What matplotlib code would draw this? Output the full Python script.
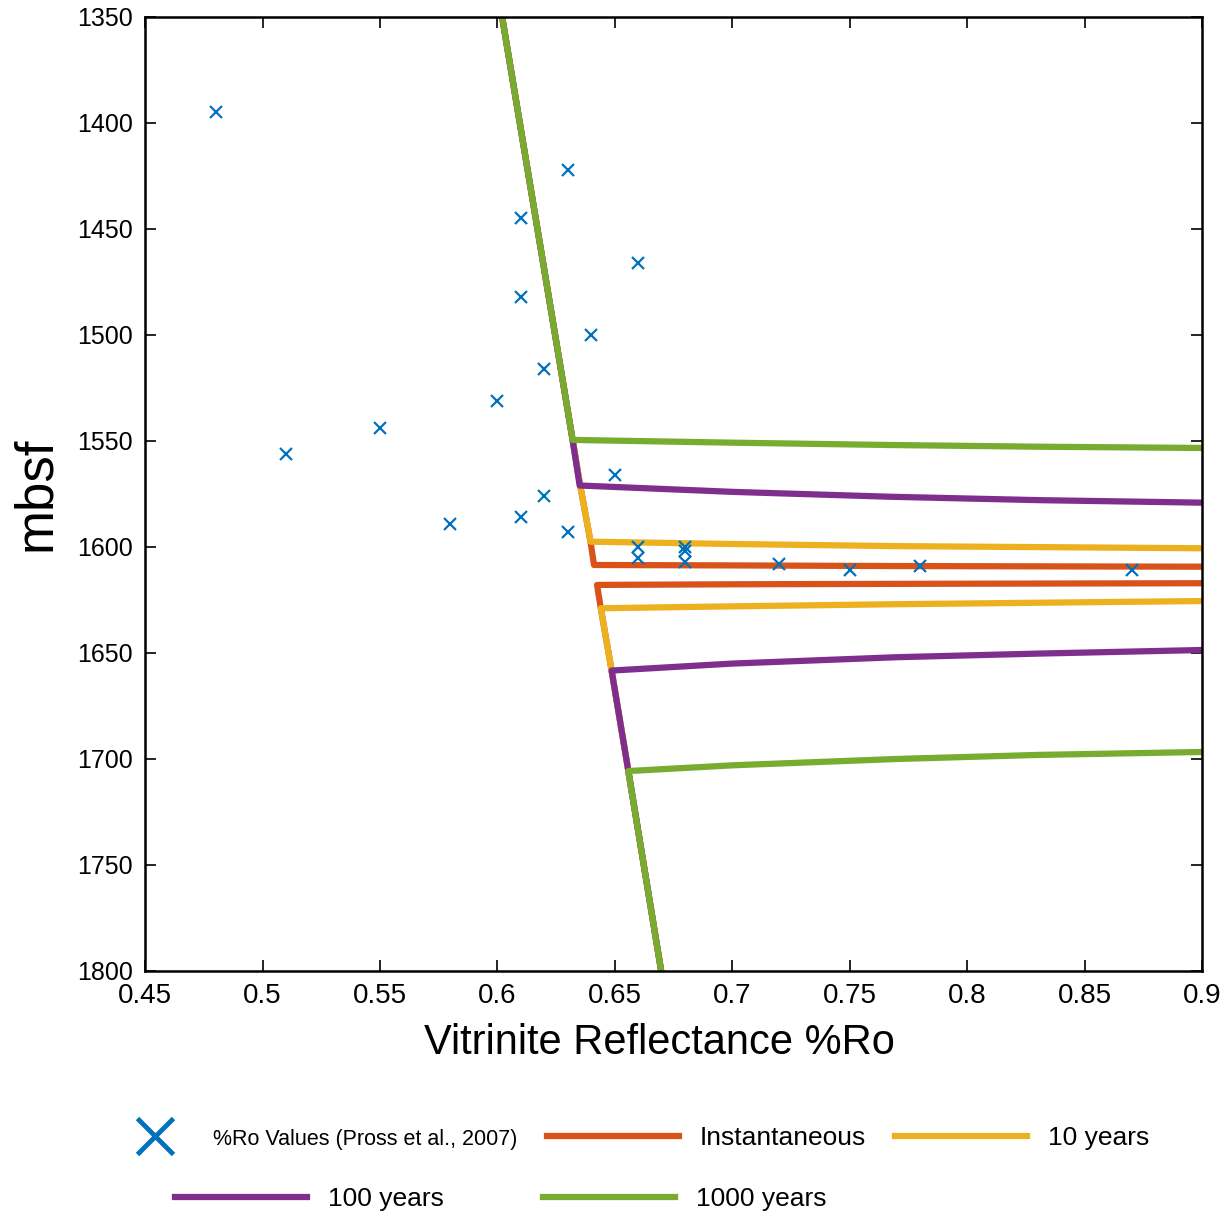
import numpy as np
import matplotlib.pyplot as plt
from matplotlib.lines import Line2D
from matplotlib.legend_handler import HandlerLine2D

plt.rcParams['font.family'] = ['Liberation Sans', 'DejaVu Sans']

# measured vitrinite reflectance (Pross et al., 2007)
ro_meas = [0.48, 0.63, 0.61, 0.66, 0.61, 0.64, 0.62, 0.60, 0.55, 0.51, 0.65, 0.62,
           0.58, 0.61, 0.63, 0.66, 0.66, 0.68, 0.68, 0.68, 0.72, 0.75, 0.78, 0.87]
depth_meas = [1395, 1422, 1445, 1466, 1482, 1500, 1516, 1531, 1544, 1556, 1566, 1576,
              1589, 1586, 1593, 1600, 1605, 1600, 1602, 1607, 1608, 1611, 1609, 1611]

# modelled profiles (upper branch, gap inside the sill aureole, lower branch)
ro_inst = [0.602, 0.632, 0.6354, 0.6397, 0.6411, 0.70, 0.77, 0.90,
           np.nan, 0.90, 0.77, 0.70, 0.6424, 0.644, 0.6486, 0.6557, 0.6697]
depth_inst = [1350, 1549.5, 1572, 1598, 1608.5, 1608.7, 1609.0, 1609.3,
              np.nan, 1617.1, 1617.4, 1617.6, 1617.9, 1628.9, 1658.3, 1705.5, 1800]

ro_10 = [0.602, 0.632, 0.6354, 0.6397, 0.70, 0.77, 0.90,
         np.nan, 0.90, 0.77, 0.70, 0.644, 0.6486, 0.6557, 0.6697]
depth_10 = [1350, 1549.5, 1572.3, 1597.5, 1598.6, 1599.6, 1600.6,
            np.nan, 1625.5, 1627.0, 1628.0, 1628.9, 1658.3, 1705.5, 1800]

ro_100 = [0.602, 0.632, 0.635, 0.70, 0.767, 0.83, 0.90,
          np.nan, 0.90, 0.83, 0.77, 0.70, 0.6486, 0.6557, 0.6697]
depth_100 = [1350, 1549.5, 1571, 1574, 1576.3, 1577.9, 1579.1,
             np.nan, 1648.6, 1650.3, 1652, 1655, 1658.3, 1705.5, 1800]

ro_1000 = [0.602, 0.632, 0.70, 0.767, 0.83, 0.90,
           np.nan, 0.90, 0.83, 0.77, 0.70, 0.6557, 0.6697]
depth_1000 = [1350, 1549.5, 1550.8, 1551.9, 1552.7, 1553.3,
              np.nan, 1696.7, 1698.1, 1700, 1703, 1705.7, 1800]

blue = '#0072BD'
orange = '#D95319'
yellow = '#EDB120'
purple = '#7E2F8E'
green = '#77AC30'


class LeftMarker(HandlerLine2D):
    # single marker sits at the middle of xdata, so put that middle off-centre
    def get_xdata(self, legend, xdescent, ydescent, width, height, fontsize):
        xm = -xdescent + 0.72 * width
        return [xm - 1, xm + 1], [xm]


fig = plt.figure(figsize=(12.23, 12.14), dpi=100)
ax = fig.add_axes([0.1186, 0.2002, 0.8644, 0.7858])

lw = 4.5
l_inst, = ax.plot(ro_inst, depth_inst, color=orange, lw=lw, label='Instantaneous')
l_10, = ax.plot(ro_10, depth_10, color=yellow, lw=lw, label='10 years')
l_100, = ax.plot(ro_100, depth_100, color=purple, lw=lw, label='100 years')
l_1000, = ax.plot(ro_1000, depth_1000, color=green, lw=lw, label='1000 years')
ax.plot(ro_meas, depth_meas, ls='none', marker='x', ms=9, mew=1.6, color=blue)

ax.set_xlim(0.45, 0.9)
ax.set_ylim(1800, 1350)
ax.set_xticks([0.45, 0.5, 0.55, 0.6, 0.65, 0.7, 0.75, 0.8, 0.85, 0.9])
ax.set_xticklabels(['0.45', '0.5', '0.55', '0.6', '0.65', '0.7', '0.75', '0.8', '0.85', '0.9'])
ax.set_yticks(np.arange(1350, 1801, 50))
ax.tick_params(direction='in', top=True, right=True, length=8, width=1.2)
ax.tick_params(axis='x', labelsize=20, pad=8.5)
ax.tick_params(axis='y', labelsize=18, pad=8.6)
for s in ax.spines.values():
    s.set_linewidth(1.8)

ax.set_xlabel('Vitrinite Reflectance %Ro', fontsize=30, labelpad=10, x=0.487)
ax.set_ylabel('mbsf', fontsize=38, labelpad=12)

# legend, two rows
ro_handle = Line2D([], [], ls='none', marker='x', ms=26, mew=3.5, color=blue)
leg1 = fig.legend([ro_handle, l_inst, l_10],
                  ['%Ro Values (Pross et al., 2007)', 'Instantaneous', '10 years'],
                  loc='center left', bbox_to_anchor=(0.03, 0.0626), ncol=3,
                  frameon=False, fontsize=19, handlelength=5, handletextpad=0.8,
                  columnspacing=1.1, handler_map={ro_handle: LeftMarker()})
leg1.get_texts()[0].set_fontsize(15.5)
fig.legend([l_100, l_1000], ['100 years', '1000 years'],
           loc='center left', bbox_to_anchor=(0.124, 0.0124), ncol=2,
           frameon=False, fontsize=19, handlelength=5, handletextpad=0.8,
           columnspacing=3.75)

fig.savefig('out.png', dpi=100)
